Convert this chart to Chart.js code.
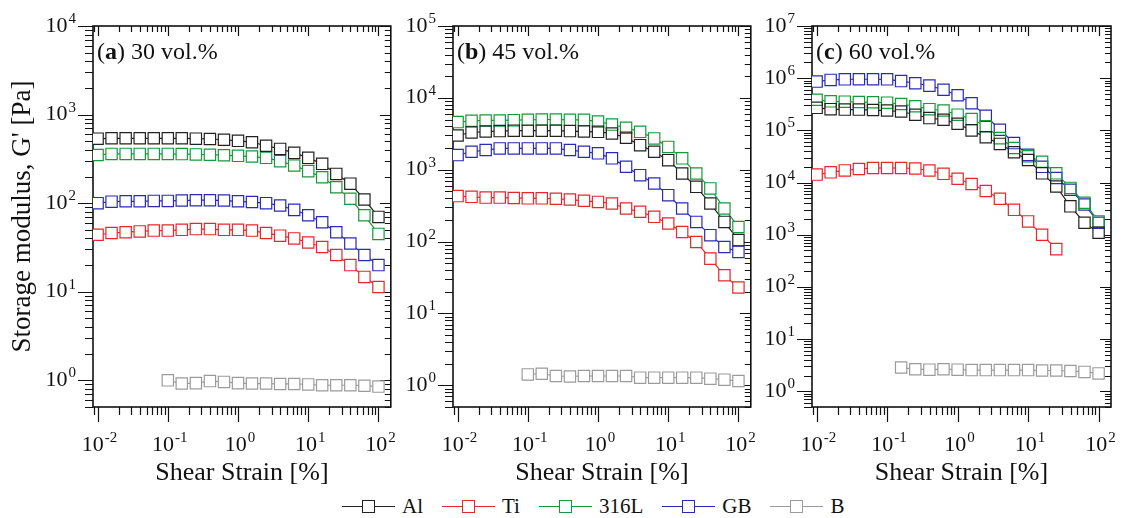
<!DOCTYPE html>
<html>
<head>
<meta charset="utf-8">
<script src="https://cdn.jsdelivr.net/npm/chart.js@4.4.1/dist/chart.umd.min.js"></script>
<style>
  html, body { margin: 0; padding: 0; background: #fff; }
  #wrap { position: relative; width: 1123px; height: 518px; overflow: hidden; font-family: "Liberation Serif", serif; color: #111; }
  #wrap canvas { position: absolute; top: 0; }
  #legend { position: absolute; top: 494px; left: 342px; display: flex; align-items: center; font-size: 21px; line-height: 24px; }
  .item { display: flex; align-items: center; margin-right: 19px; }
  .sym { position: relative; width: 53px; height: 14px; margin-right: 7px; }
  .sym .ln { position: absolute; left: 0; right: 0; top: 7px; border-top: 1.3px solid; }
  .sym .sq { position: absolute; left: 20px; top: 1px; width: 11px; height: 11px; border: 1.3px solid; background: #fff; }
</style>
</head>
<body>
<div id="wrap">
  <canvas id="ca" width="400" height="490" style="left:0px"></canvas>
  <canvas id="cb" width="365" height="490" style="left:395px"></canvas>
  <canvas id="cc" width="368" height="490" style="left:755px"></canvas>
  <div id="legend"></div>
</div>
<script>
// shear strain [%], 5 points per decade
const strain = [0.01, 0.0158, 0.0251, 0.0398, 0.0631, 0.1, 0.158, 0.251, 0.398, 0.631,
                1, 1.58, 2.51, 3.98, 6.31, 10, 15.8, 25.1, 39.8, 63.1, 100];

const seriesNames = ['Al', 'Ti', '316L', 'GB', 'B'];
const seriesColors = ['#222222', '#e8262b', '#16993a', '#2a2ab8', '#9b9b9b'];

const panelTags = ['a', 'b', 'c'];
const panelLabels = ['30 vol.%', '45 vol.%', '60 vol.%'];

// axis ranges
const xRange = [0.0086, 150];
const yMinValue = 0.5;
const yMaxValues = [1e4, 1e5, 1e7];

// (a) 30 vol.%
const alA   = [535, 540, 540, 540, 540, 540, 540, 535, 530, 520, 505, 488, 445, 410, 370, 325, 278, 214, 166, 110, 70];
const tiA   = [44, 46, 47, 48, 49, 49, 50, 51, 51, 50, 50, 49, 46, 43, 40, 36, 32, 26, 20, 14.7, 11.3];
const s316A = [350, 360, 360, 360, 360, 360, 358, 355, 352, 348, 342, 336, 325, 298, 266, 230, 196, 151, 112, 73, 45];
const gbA   = [100, 104, 105, 105, 106, 106, 107, 108, 108, 107, 105, 103, 100, 94, 84, 73, 61, 47, 35, 26, 20];
const bA    = [null, null, null, null, null, 1.0, 0.92, 0.93, 0.98, 0.96, 0.93, 0.92, 0.92, 0.91, 0.91, 0.9, 0.88, 0.88, 0.88, 0.87, 0.85];

// (b) 45 vol.%
const alB   = [3000, 3300, 3400, 3450, 3500, 3500, 3500, 3500, 3450, 3400, 3370, 3200, 2790, 2200, 1780, 1360, 888, 578, 339, 188, 105];
const tiB   = [430, 420, 410, 410, 405, 400, 400, 395, 385, 370, 357, 339, 289, 260, 221, 179, 136, 99, 58, 34, 23];
const s316B = [4600, 4800, 4850, 4850, 4900, 4950, 5000, 5000, 4950, 4950, 4700, 4250, 3840, 3370, 2730, 2080, 1440, 888, 550, 289, 160];
const gbB   = [1600, 1780, 1880, 1980, 1980, 1980, 1980, 1980, 1880, 1780, 1690, 1440, 1100, 841, 645, 443, 289, 188, 123, 84, 72];
const bB    = [null, null, null, null, null, 1.42, 1.45, 1.35, 1.33, 1.35, 1.35, 1.35, 1.35, 1.28, 1.28, 1.28, 1.28, 1.28, 1.24, 1.2, 1.15];

// (c) 60 vol.%
const alC   = [270000, 255000, 250000, 250000, 245000, 240000, 230000, 199000, 172000, 160000, 134000, 100000, 74000, 55000, 38000, 27000, 15000, 8400, 3500, 1700, 1090];
const tiC   = [14200, 15700, 17100, 18200, 19000, 19000, 19000, 18600, 17000, 14700, 11800, 9400, 6900, 4900, 3000, 1800, 1000, 530];
const s316C = [385000, 360000, 355000, 350000, 345000, 340000, 320000, 290000, 255000, 240000, 200000, 165000, 120000, 71000, 46000, 32000, 25000, 15000, 7900, 4100, 1800];
const gbC   = [860000, 927000, 950000, 955000, 955000, 950000, 880000, 800000, 720000, 600000, 470000, 330000, 190000, 103000, 57000, 34000, 20000, 12200, 7300, 3800, 1700];
const bC    = [null, null, null, null, null, null, 2.85, 2.65, 2.6, 2.65, 2.6, 2.55, 2.55, 2.55, 2.55, 2.55, 2.5, 2.5, 2.45, 2.35, 2.2];

const panelSeries = [
  [alA, tiA, s316A, gbA, bA],
  [alB, tiB, s316B, gbB, bB],
  [alC, tiC, s316C, gbC, bC]
];

const FONT = '"Liberation Serif", serif';
Chart.defaults.font.family = FONT;

// 1..9 x 10^k ticks inside [min, max]
function logTicks(min, max) {
  const out = [];
  for (let k = Math.floor(Math.log10(min)); k <= Math.ceil(Math.log10(max)); k++) {
    for (let m = 1; m <= 9; m++) {
      const v = m * Math.pow(10, k);
      if (v >= min * 0.999 && v <= max * 1.001) out.push({ value: v, major: m === 1 });
    }
  }
  return out;
}

function drawPow(ctx, x, y, exp, align) {
  const base = '10';
  const sup = String(exp);
  ctx.font = '22px ' + FONT;
  const wb = ctx.measureText(base).width;
  ctx.font = '15px ' + FONT;
  const ws = ctx.measureText(sup).width;
  const total = wb + ws + 1;
  const x0 = align === 'right' ? x - total : x - total / 2;
  ctx.textAlign = 'left';
  ctx.textBaseline = 'alphabetic';
  ctx.font = '22px ' + FONT;
  ctx.fillText(base, x0, y + 7.5);
  ctx.font = '15px ' + FONT;
  ctx.fillText(sup, x0 + wb + 1, y - 1);
}

const framePlugin = {
  id: 'frame',
  beforeDatasetsDraw(chart) {
    const ctx = chart.ctx;
    const a = chart.chartArea;
    const xs = chart.scales.x, ys = chart.scales.y;
    ctx.save();
    ctx.strokeStyle = '#111';
    ctx.lineWidth = 1.2;
    ctx.beginPath();
    xs.ticks.forEach(t => {
      const px = Math.round(xs.getPixelForValue(t.value)) + 0.5;
      ctx.moveTo(px, a.bottom);
      ctx.lineTo(px, a.bottom + (t.major ? 15 : 8));
      ctx.moveTo(px, a.top);
      ctx.lineTo(px, a.top + (t.major ? 10 : 6));
    });
    ys.ticks.forEach(t => {
      const py = Math.round(ys.getPixelForValue(t.value)) + 0.5;
      ctx.moveTo(a.left, py);
      ctx.lineTo(a.left - (t.major ? 15 : 8), py);
      ctx.moveTo(a.right, py);
      ctx.lineTo(a.right - (t.major ? 11 : 6), py);
    });
    ctx.stroke();
    ctx.lineWidth = 1.6;
    ctx.strokeRect(a.left, a.top, a.right - a.left, a.bottom - a.top);
    ctx.restore();
  },
  afterDraw(chart, args, opts) {
    const ctx = chart.ctx;
    const a = chart.chartArea;
    const xs = chart.scales.x, ys = chart.scales.y;
    ctx.save();
    ctx.fillStyle = '#111';
    xs.ticks.filter(t => t.major).forEach(t => {
      drawPow(ctx, xs.getPixelForValue(t.value) + 2, 443, Math.round(Math.log10(t.value)), 'center');
    });
    ys.ticks.filter(t => t.major).forEach(t => {
      drawPow(ctx, a.left - 17, ys.getPixelForValue(t.value) - 2, Math.round(Math.log10(t.value)), 'right');
    });
    // panel title
    let x = a.left + 4;
    const y = a.top + 33;
    ctx.textAlign = 'left';
    ctx.textBaseline = 'alphabetic';
    ctx.font = '24px ' + FONT;
    ctx.fillText('(', x, y);
    x += ctx.measureText('(').width;
    ctx.font = 'bold 24px ' + FONT;
    ctx.fillText(opts.tag, x, y);
    x += ctx.measureText(opts.tag).width;
    ctx.font = '24px ' + FONT;
    ctx.fillText(') ' + opts.label, x, y);
    ctx.restore();
  }
};

function makeDatasets(list) {
  const sets = [];
  list.forEach((vals, s) => {
    const pts = [];
    vals.forEach((v, i) => { if (v != null) pts.push({ x: strain[i], y: v }); });
    const col = seriesColors[s];
    sets.push({ label: seriesNames[s], data: pts, borderColor: col, borderWidth: 1.2,
                pointRadius: 0, fill: false, tension: 0, order: 3 });
    sets.push({ data: pts, showLine: false, pointStyle: 'rect', pointRadius: 8,
                pointBackgroundColor: '#fff', pointBorderWidth: 0, order: 2 });
    sets.push({ data: pts, showLine: false, pointStyle: 'rect', pointRadius: 8,
                pointBackgroundColor: 'rgba(0,0,0,0)', pointBorderColor: col, pointBorderWidth: 1.2, order: 1 });
  });
  return sets;
}

const layouts = [
  { id: 'ca', yAxisW: 93, padR: 8 },
  { id: 'cb', yAxisW: 58, padR: 9 },
  { id: 'cc', yAxisW: 57, padR: 12 }
];

layouts.forEach((L, p) => {
  new Chart(document.getElementById(L.id), {
    type: 'line',
    data: { datasets: makeDatasets(panelSeries[p]) },
    options: {
      responsive: false,
      animation: false,
      events: [],
      layout: { padding: { top: 26, right: L.padR, bottom: 0, left: 0 } },
      plugins: {
        legend: { display: false },
        tooltip: { enabled: false },
        frame: { tag: panelTags[p], label: panelLabels[p] }
      },
      scales: {
        x: {
          type: 'logarithmic',
          position: 'bottom',
          min: xRange[0],
          max: xRange[1],
          grid: { display: false },
          border: { display: false },
          ticks: { display: false },
          afterBuildTicks: s => { s.ticks = logTicks(xRange[0], xRange[1]); },
          afterFit: s => { s.height = 83; },
          title: { display: true, text: 'Shear Strain [%]', color: '#111',
                   font: { size: 26 }, padding: { top: 0, bottom: 1 } }
        },
        y: {
          type: 'logarithmic',
          position: 'left',
          min: yMinValue,
          max: yMaxValues[p],
          grid: { display: false },
          border: { display: false },
          ticks: { display: false },
          afterBuildTicks: s => { s.ticks = logTicks(yMinValue, yMaxValues[p]); },
          afterFit: s => { s.width = L.yAxisW; },
          title: { display: p === 0, text: "Storage modulus, G' [Pa]", color: '#111',
                   font: { size: 27 }, padding: { top: 7, bottom: 0 } }
        }
      }
    },
    plugins: [framePlugin]
  });
});

// legend
const legend = document.getElementById('legend');
seriesNames.forEach((name, s) => {
  const item = document.createElement('div');
  item.className = 'item';
  item.innerHTML = '<span class="sym"><span class="ln" style="border-color:' + seriesColors[s] +
    '"></span><span class="sq" style="border-color:' + seriesColors[s] + '"></span></span><span>' + name + '</span>';
  legend.appendChild(item);
});
</script>
</body>
</html>
